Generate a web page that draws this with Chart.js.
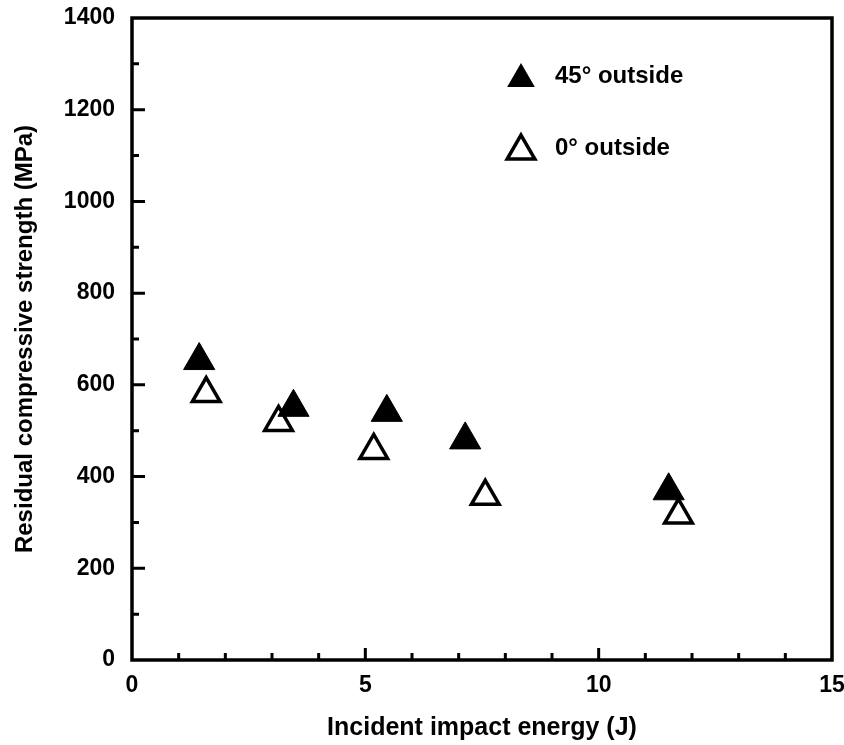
<!DOCTYPE html>
<html>
<head>
<meta charset="utf-8">
<script src="https://cdn.jsdelivr.net/npm/chart.js@4/dist/chart.umd.min.js"></script>
<style>
  html, body { margin: 0; padding: 0; background: #fff; }
  #wrap { width: 844px; height: 745px; position: relative; }
</style>
</head>
<body>
<div id="wrap"><canvas id="impactChart"></canvas></div>
<script>
// Residual compressive strength after impact, two ply orientations
const energy45 = [1.44, 3.46, 5.46, 7.14, 11.5];
const strength45 = [653, 551, 540, 480, 369];
const energy0 = [1.59, 3.14, 5.18, 7.57, 11.71];
const strength0 = [581, 518, 457, 357, 316];

const seriesLabels = ['45\u00b0 outside', '0\u00b0 outside'];
const xTickLabels = [0, 5, 10, 15];
const yTickLabels = [0, 200, 400, 600, 800, 1000, 1200, 1400];

const FONT = '"Liberation Sans", Arial, sans-serif';

function toPoints(xs, ys) {
    return xs.map((x, i) => ({ x: x, y: ys[i] }));
}

function trianglePath(ctx, x, y, r) {
    // same geometry as Chart.js 'triangle' point style
    ctx.beginPath();
    for (let k = 0; k < 3; k++) {
        const a = k * 2 * Math.PI / 3;
        const px = x + Math.sin(a) * r;
        const py = y - Math.cos(a) * r;
        if (k === 0) ctx.moveTo(px, py); else ctx.lineTo(px, py);
    }
    ctx.closePath();
}

// Closed frame with inward tick marks
const framePlugin = {
    id: 'frame',
    beforeDatasetsDraw(chart) {
        const { ctx, chartArea: a, scales: { x, y } } = chart;
        ctx.save();
        ctx.strokeStyle = '#000';
        ctx.lineWidth = 3.5;
        ctx.strokeRect(a.left, a.top, a.right - a.left, a.bottom - a.top);

        ctx.lineWidth = 3;
        ctx.beginPath();
        for (let v = 1; v < 15; v++) {
            const px = x.getPixelForValue(v);
            const len = v % 5 === 0 ? 12 : 7;
            ctx.moveTo(px, a.bottom);
            ctx.lineTo(px, a.bottom - len);
        }
        for (let v = 100; v < 1400; v += 100) {
            const py = y.getPixelForValue(v);
            const len = v % 200 === 0 ? 13 : 7;
            ctx.moveTo(a.left, py);
            ctx.lineTo(a.left + len, py);
        }
        ctx.stroke();
        ctx.restore();
    }
};

// Legend drawn inside the plot frame
const legendPlugin = {
    id: 'innerLegend',
    afterDraw(chart, args, opts) {
        const ctx = chart.ctx;
        ctx.save();
        ctx.font = 'bold 24px ' + FONT;
        ctx.textBaseline = 'middle';
        ctx.fillStyle = '#000';
        chart.data.datasets.forEach((ds, i) => {
            const cy = opts.top + i * opts.rowGap;
            trianglePath(ctx, opts.left, cy + 3, opts.size);
            if (ds.backgroundColor === '#000') {
                ctx.fillStyle = '#000';
                ctx.fill();
            } else {
                ctx.lineWidth = 3.5;
                ctx.strokeStyle = '#000';
                ctx.stroke();
            }
            ctx.fillStyle = '#000';
            ctx.fillText(ds.label, opts.left + 34, cy);
        });
        ctx.restore();
    }
};

const ctx = document.getElementById('impactChart').getContext('2d');
new Chart(ctx, {
    type: 'scatter',
    data: {
        datasets: [
            {
                label: seriesLabels[0],
                data: toPoints(energy45, strength45),
                pointStyle: 'triangle',
                radius: 18,
                backgroundColor: '#000',
                borderColor: '#000',
                borderWidth: 1
            },
            {
                label: seriesLabels[1],
                data: toPoints(energy0, strength0),
                pointStyle: 'triangle',
                radius: 16,
                backgroundColor: 'rgba(255,255,255,0)',
                borderColor: '#000',
                borderWidth: 3.5
            }
        ]
    },
    options: {
        responsive: true,
        maintainAspectRatio: false,
        animation: false,
        layout: { autoPadding: false, padding: { top: 18, right: 12, left: 0, bottom: 0 } },
        plugins: {
            legend: { display: false },
            tooltip: { enabled: false },
            innerLegend: { left: 521, top: 76, rowGap: 72, size: 16 }
        },
        scales: {
            x: {
                type: 'linear',
                min: 0,
                max: 15,
                afterFit(scale) {
                    scale.height = 85;
                    scale.paddingLeft = 0;
                    scale.paddingRight = 0;
                },
                grid: { display: false, drawTicks: false },
                border: { display: false },
                ticks: {
                    stepSize: 1,
                    autoSkip: false,
                    maxRotation: 0,
                    padding: 12,
                    color: '#000',
                    font: { family: FONT, size: 23, weight: 'bold' },
                    callback: v => xTickLabels.includes(v) ? String(v) : ''
                },
                title: {
                    display: true,
                    text: 'Incident impact energy (J)',
                    color: '#000',
                    font: { family: FONT, size: 25, weight: 'bold' },
                    padding: { top: 0, bottom: 2 }
                }
            },
            y: {
                type: 'linear',
                min: 0,
                max: 1400,
                afterFit(scale) {
                    scale.width = 132;
                    scale.paddingTop = 0;
                    scale.paddingBottom = 0;
                },
                grid: { display: false, drawTicks: false },
                border: { display: false },
                ticks: {
                    stepSize: 100,
                    autoSkip: false,
                    padding: 17,
                    color: '#000',
                    font: { family: FONT, size: 23, weight: 'bold' },
                    callback: v => yTickLabels.includes(v) ? String(v) : ''
                },
                title: {
                    display: true,
                    text: 'Residual compressive strength (MPa)',
                    color: '#000',
                    font: { family: FONT, size: 24, weight: 'bold' },
                    padding: { top: 11, bottom: 0 }
                }
            }
        }
    },
    plugins: [framePlugin, legendPlugin]
});
</script>
</body>
</html>
